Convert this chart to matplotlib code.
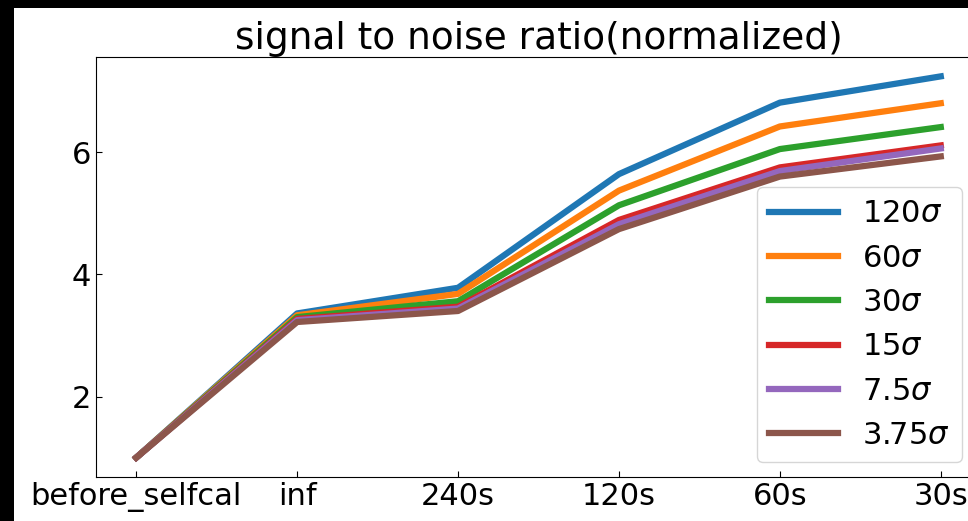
import matplotlib
matplotlib.use('Agg')
import matplotlib.pyplot as plt
from matplotlib.patches import Rectangle

# x categories (solution intervals)
steps = ['before_selfcal', 'inf', '240s', '120s', '60s', '30s']
labels = ['120$\\sigma$', '60$\\sigma$', '30$\\sigma$', '15$\\sigma$', '7.5$\\sigma$', '3.75$\\sigma$']

snr_120 = [1.0, 3.36, 3.78, 5.64, 6.81, 7.24]
snr_60 = [1.0, 3.33, 3.68, 5.37, 6.42, 6.80]
snr_30 = [1.0, 3.30, 3.56, 5.13, 6.05, 6.41]
snr_15 = [1.0, 3.27, 3.47, 4.89, 5.75, 6.11]
snr_7p5 = [1.0, 3.25, 3.44, 4.82, 5.69, 6.06]
snr_3p75 = [1.0, 3.22, 3.40, 4.74, 5.60, 5.93]
series = [snr_120, snr_60, snr_30, snr_15, snr_7p5, snr_3p75]

fig = plt.figure(figsize=(9.68, 5.21), dpi=100)
fig.patch.set_facecolor('black')
fig.patches.append(Rectangle((14/968, 0), 1, (521-8)/521, transform=fig.transFigure,
                             facecolor='white', edgecolor='none', zorder=-10))

ax = fig.add_axes([96/968, (521-476.7)/521, 885/968, (476.7-57.3)/521])
x = list(range(len(steps)))
for s, lab in zip(series, labels):
    ax.plot(x, s, lw=4.5, label=lab)

ax.set_xticks(x)
ax.set_xticklabels(steps)
ax.set_yticks([2, 4, 6])
ax.tick_params(direction='in', labelsize=22, length=4)
ax.set_title('signal to noise ratio(normalized)', fontsize=27)

ax.legend(fontsize=22, loc='lower right', handlelength=2.25,
          bbox_to_anchor=(962/968, (521-462)/521), bbox_transform=fig.transFigure,
          borderaxespad=0)

fig.savefig('out.png', dpi=100, facecolor=fig.get_facecolor())
